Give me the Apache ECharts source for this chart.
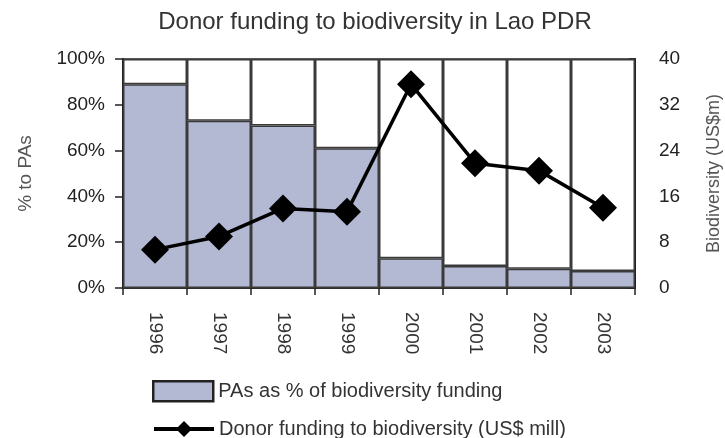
<!DOCTYPE html>
<html>
<head>
<meta charset="utf-8">
<script src="https://cdn.jsdelivr.net/npm/echarts@6/dist/echarts.min.js"></script>
<style>
  html, body { margin: 0; padding: 0; background: #fff; }
  #chart { width: 725px; height: 438px; }
</style>
</head>
<body>
<div id="chart"></div>
<script>
// data
const years = ['1996', '1997', '1998', '1999', '2000', '2001', '2002', '2003']
const paShare = [89, 73, 71, 61, 13, 9.6, 8.4, 7.4]        // % of biodiversity funding
const donorFunding = [6.7, 9, 13.9, 13.3, 35.6, 21.8, 20.5, 14]  // US$ mill
const rest = paShare.map(v => 100 - v)

const font = 'Liberation Sans, Arial, sans-serif'
let chart = echarts.init(document.getElementById('chart'))

let option = {
  animation: false,
  textStyle: { fontFamily: font },
  title: {
    text: 'Donor funding to biodiversity in Lao PDR',
    left: 370,
    textAlign: 'center',
    top: 5,
    textStyle: { fontSize: 24, fontWeight: 'normal', color: '#333', fontFamily: font }
  },
  grid: {
    left: 123,
    right: 90,
    top: 59,
    bottom: 150,
    outerBoundsMode: 'none',
    show: true,
    borderColor: '#222',
    borderWidth: 1.5
  },
  legend: [
    {
      left: 152,
      top: 380,
      padding: 0,
      itemWidth: 60,
      itemHeight: 20,
      icon: 'rect',
      itemStyle: { borderColor: '#222', borderWidth: 2.5 },
      data: ['PAs as % of biodiversity funding'],
      textStyle: { fontSize: 20, color: '#333', fontFamily: font }
    },
    {
      left: 152,
      top: 419,
      padding: 0,
      itemWidth: 60,
      itemHeight: 20,
      lineStyle: { width: 4 },
      data: ['Donor funding to biodiversity (US$ mill)'],
      textStyle: { fontSize: 20, color: '#333', fontFamily: font }
    }
  ],
  xAxis: {
    type: 'category',
    data: years,
    axisLine: { lineStyle: { color: '#222', width: 1.5 } },
    axisTick: { show: true, length: 7, lineStyle: { color: '#222', width: 1.5 } },
    axisLabel: { rotate: -90, fontSize: 19, color: '#333', margin: 24 }
  },
  yAxis: [
    {
      type: 'value',
      min: 0,
      max: 100,
      interval: 20,
      name: '% to PAs',
      nameLocation: 'middle',
      nameRotate: 90,
      nameGap: 88,
      nameTextStyle: { fontSize: 19, color: '#555' },
      axisLine: { show: true, lineStyle: { color: '#222', width: 2 } },
      axisTick: { show: true, length: 8, lineStyle: { color: '#222', width: 1.5 } },
      splitLine: { show: false },
      axisLabel: { formatter: '{value}%', fontSize: 19, color: '#222', margin: 18 }
    },
    {
      type: 'value',
      min: 0,
      max: 40,
      interval: 8,
      name: 'Biodiversity (US$m)',
      nameLocation: 'middle',
      nameRotate: 90,
      nameGap: 70,
      nameTextStyle: { fontSize: 18, color: '#555' },
      axisLine: { show: true, lineStyle: { color: '#222', width: 2 } },
      axisTick: { show: true, inside: true, length: 6, lineStyle: { color: '#222', width: 1.5 } },
      splitLine: { show: false },
      axisLabel: { fontSize: 19, color: '#222', margin: 24 }
    }
  ],
  series: [
    {
      name: 'PAs as % of biodiversity funding',
      type: 'bar',
      stack: 'share',
      data: paShare,
      barCategoryGap: 0,
      itemStyle: { color: '#b3b8d3', borderColor: '#3a3a3a', borderWidth: 1.5 }
    },
    {
      name: 'rest',
      type: 'bar',
      stack: 'share',
      data: rest,
      barCategoryGap: 0,
      itemStyle: { color: '#fff', borderColor: '#3a3a3a', borderWidth: 1.5 },
      silent: true
    },
    {
      name: 'Donor funding to biodiversity (US$ mill)',
      type: 'line',
      yAxisIndex: 1,
      data: donorFunding,
      symbol: 'diamond',
      symbolSize: 28,
      itemStyle: { color: '#000' },
      lineStyle: { color: '#000', width: 3.5 },
      z: 5
    }
  ]
}

chart.setOption(option)
</script>
</body>
</html>
